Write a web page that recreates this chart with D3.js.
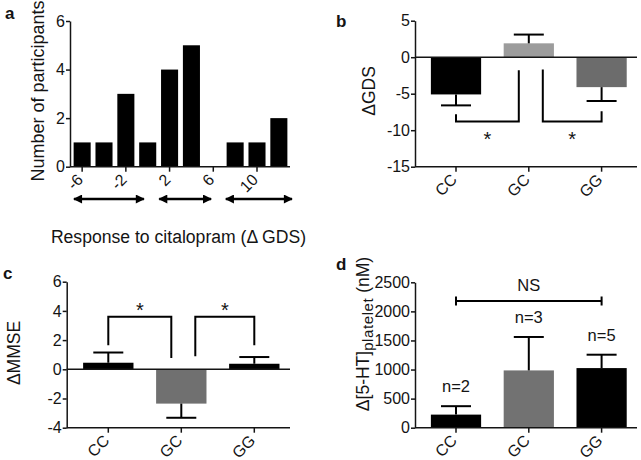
<!DOCTYPE html>
<html><head><meta charset="utf-8">
<script src="https://cdn.jsdelivr.net/npm/d3@7"></script>
<style>body{margin:0;background:#fff}</style>
</head><body><svg id="chart" width="641" height="460"></svg>
<script>
// ---------- data ----------
const histBins = [-6, -4, -2, 0, 2, 4, 6, 8, 10, 12];
const histCounts = [1, 1, 3, 1, 4, 5, 0, 1, 1, 2];
const histTickValues = [-6, -2, 2, 6, 10];
const histYTicks = [0, 2, 4, 6];
const responseArrows = [[-6.75, -0.35], [1.05, 5.8], [7.15, 13.2]];

const genotypes = ["CC", "GC", "GG"];
const gdsMean = [-5.1, 1.9, -4.1];
const gdsErr = [1.5, 1.2, 1.9];
const gdsTicks = [-15, -10, -5, 0, 5];
const gdsBrackets = [
  {from: "CC", to: "GC", yFrom: -7.8, yTo: -1.8, yBar: -8.8, label: "*"},
  {from: "GC", to: "GG", yFrom: -1.7, yTo: -7.4, yBar: -8.8, label: "*"}
];

const mmseMean = [0.45, -2.35, 0.38];
const mmseErr = [0.7, 0.97, 0.46];
const mmseTicks = [-4, -2, 0, 2, 4, 6];
const mmseBrackets = [
  {from: "CC", to: "GC", yFrom: 1.64, yTo: 0.77, yBar: 3.6, label: "*"},
  {from: "GC", to: "GG", yFrom: 0.9, yTo: 1.64, yBar: 3.6, label: "*"}
];

const htMean = [225, 985, 1025];
const htErr = [145, 575, 230];
const htTicks = [0, 500, 1000, 1500, 2000, 2500];
const htN = ["n=2", "n=3", "n=5"];
const htNS = {from: "CC", to: "GG", y: 2180, label: "NS"};

// ---------- setup ----------
const FONT = "Arial, 'Liberation Sans', Helvetica, sans-serif";
const INK = "#141414";
const TICK_FS = 16;
const svg = d3.select("#chart");
svg.append("rect").attr("width", 641).attr("height", 460).attr("fill", "#fff");

function styleAxis(sel) {
  sel.attr("font-size", TICK_FS).attr("font-family", FONT);
  sel.select(".domain").attr("stroke", INK).attr("stroke-width", 1.5);
  sel.selectAll(".tick line").attr("stroke", INK).attr("stroke-width", 1.5);
  sel.selectAll(".tick text").attr("font-size", TICK_FS).attr("fill", INK).attr("font-family", FONT);
}
function txt(g, s, x, y, size, opts = {}) {
  return g.append("text").attr("x", x).attr("y", y).attr("font-size", size)
    .attr("font-family", FONT).attr("fill", INK)
    .attr("text-anchor", opts.anchor || "start")
    .attr("font-weight", opts.weight || "normal").text(s);
}
function rotLabels(axisG) {
  axisG.selectAll(".tick text")
    .attr("x", 0).attr("y", 0).attr("dy", 0)
    .attr("text-anchor", "end")
    .attr("transform", "translate(2,14) rotate(-45)");
}

// ---------- panel a ----------
(function () {
  const g = svg.append("g");
  const axisX = 70, bottom = 166.7, top = 21, right = 290;
  const y = d3.scaleLinear().domain([0, 6]).range([bottom, top]);
  const x = d3.scaleBand().domain(histBins).range([71, right]).paddingInner(0.22).paddingOuter(0.12);
  const bw = x.bandwidth();
  const xLin = d3.scaleLinear().domain([-6, 12]).range([x(-6) + bw / 2, x(12) + bw / 2]);

  g.selectAll("rect.bar").data(histBins).join("rect")
    .attr("x", d => x(d)).attr("width", bw)
    .attr("y", (d, i) => y(histCounts[i]))
    .attr("height", (d, i) => bottom - y(histCounts[i]))
    .attr("fill", "#000");

  const ya = g.append("g").attr("transform", `translate(${axisX},0)`)
    .call(d3.axisLeft(y).tickValues(histYTicks).tickFormat(d => String(d)).tickSize(4).tickSizeOuter(0).tickPadding(1));
  styleAxis(ya);

  const xa = g.append("g").attr("transform", `translate(0,${bottom})`)
    .call(d3.axisBottom(x).tickValues(histTickValues).tickFormat(d => String(d)).tickSize(5).tickSizeOuter(0));
  xa.select(".domain").remove();
  styleAxis(xa);
  rotLabels(xa);
  g.append("line").attr("x1", axisX).attr("x2", right).attr("y1", bottom).attr("y2", bottom)
    .attr("stroke", INK).attr("stroke-width", 1.5);

  const defs = svg.append("defs");
  defs.append("marker").attr("id", "ah").attr("viewBox", "0 0 10 10")
    .attr("refX", 9).attr("refY", 5).attr("markerWidth", 10).attr("markerHeight", 9)
    .attr("markerUnits", "userSpaceOnUse").attr("orient", "auto-start-reverse")
    .append("path").attr("d", "M0,0 L10,5 L0,10 Z").attr("fill", "#000");
  g.selectAll("line.arr").data(responseArrows).join("line")
    .attr("x1", d => xLin(d[0])).attr("x2", d => xLin(d[1]))
    .attr("y1", 199).attr("y2", 199)
    .attr("stroke", "#000").attr("stroke-width", 2.6)
    .attr("marker-start", "url(#ah)").attr("marker-end", "url(#ah)");

  txt(g, "a", 5, 18.5, 17, {weight: "bold"});
  txt(g, "Number of participants", 0, 0, 18, {anchor: "middle"})
    .attr("transform", "translate(44,91) rotate(-90)");
  txt(g, "Response to citalopram (\u0394 GDS)", 178.5, 243, 17.6, {anchor: "middle"});
})();

// ---------- generic bar panel ----------
function barPanel(p) {
  const g = svg.append("g");
  const y = d3.scaleLinear().domain(p.domain).range([p.bottom, p.top]);
  const x = d3.scaleBand().domain(genotypes).range(p.xr).padding(0);
  const cx = c => x(c) + x.bandwidth() / 2;
  const bw = x.bandwidth() * 0.69;

  g.selectAll("rect.bar").data(genotypes).join("rect")
    .attr("x", d => cx(d) - bw / 2).attr("width", bw)
    .attr("y", (d, i) => Math.min(y(0), y(p.mean[i])))
    .attr("height", (d, i) => Math.abs(y(p.mean[i]) - y(0)))
    .attr("fill", (d, i) => p.colors[i]);

  if (p.domain[0] < 0) {
    g.append("line").attr("x1", p.axisX).attr("x2", p.xEnd).attr("y1", y(0)).attr("y2", y(0))
      .attr("stroke", INK).attr("stroke-width", 1.5);
  }

  genotypes.forEach((c, i) => {
    const v = p.mean[i], e = v + Math.sign(v) * p.err[i];
    g.append("line").attr("x1", cx(c)).attr("x2", cx(c)).attr("y1", y(v)).attr("y2", y(e))
      .attr("stroke", "#000").attr("stroke-width", 2);
    g.append("line").attr("x1", cx(c) - 15).attr("x2", cx(c) + 15).attr("y1", y(e)).attr("y2", y(e))
      .attr("stroke", "#000").attr("stroke-width", 2);
  });

  const ya = g.append("g").attr("transform", `translate(${p.axisX},0)`)
    .call(d3.axisLeft(y).tickValues(p.ticks).tickFormat(d => String(d)).tickSize(4).tickSizeOuter(0).tickPadding(1));
  styleAxis(ya);

  const xa = g.append("g").attr("transform", `translate(0,${p.bottom})`)
    .call(d3.axisBottom(x).tickSize(5).tickSizeOuter(0));
  xa.select(".domain").remove();
  styleAxis(xa);
  rotLabels(xa);
  g.append("line").attr("x1", p.axisX).attr("x2", p.xEnd).attr("y1", p.bottom).attr("y2", p.bottom)
    .attr("stroke", INK).attr("stroke-width", 1.5);

  (p.brackets || []).forEach(b => {
    const x1 = cx(b.from) + (b.from === "GC" ? 14 : 0);
    const x2 = cx(b.to) - (b.to === "GC" ? 10 : 0);
    g.append("path")
      .attr("d", `M${x1},${y(b.yFrom)} V${y(b.yBar)} H${x2} V${y(b.yTo)}`)
      .attr("fill", "none").attr("stroke", "#000").attr("stroke-width", 2);
    const below = b.yBar < Math.min(b.yFrom, b.yTo);
    const sy = below ? y(b.yBar) + 13 : y(b.yBar) - 11;
    txt(g, b.label, (x1 + x2) / 2, sy + 0.57 * 20, 20, {anchor: "middle"});
  });

  txt(g, p.letter, p.letterPos[0], p.letterPos[1], 17, {weight: "bold"});
  return {g, x, y, cx};
}

// ---------- panel b ----------
const pb = barPanel({
  domain: [-15, 5], ticks: gdsTicks, top: 20.7, bottom: 166.7,
  xr: [419.6, 638], axisX: 415, xEnd: 637,
  mean: gdsMean, err: gdsErr, colors: ["#000", "#9c9c9c", "#6c6c6c"],
  brackets: gdsBrackets, letter: "b", letterPos: [336, 26.5]
});
txt(pb.g, "\u0394GDS", 0, 0, 17.5, {anchor: "middle"}).attr("transform", "translate(375,91) rotate(-90)");

// ---------- panel c ----------
const pc = barPanel({
  domain: [-4, 6], ticks: mmseTicks, top: 281.7, bottom: 427.7,
  xr: [71.8, 290.8], axisX: 66.7, xEnd: 290,
  mean: mmseMean, err: mmseErr, colors: ["#000", "#707070", "#000"],
  brackets: mmseBrackets, letter: "c", letterPos: [3, 278.5]
});
txt(pc.g, "\u0394MMSE", 0, 0, 17.5, {anchor: "middle"}).attr("transform", "translate(20,353) rotate(-90)");

// ---------- panel d ----------
const pd = barPanel({
  domain: [0, 2500], ticks: htTicks, top: 282.3, bottom: 427.7,
  xr: [419.6, 638], axisX: 415, xEnd: 637,
  mean: htMean, err: htErr, colors: ["#000", "#727272", "#000"],
  brackets: [], letter: "d", letterPos: [336, 270]
});
genotypes.forEach((c, i) => {
  txt(pd.g, htN[i], pd.cx(c), pd.y(htMean[i] + htErr[i]) - 14, 16.5, {anchor: "middle"});
});
{
  const x1 = pd.cx(htNS.from), x2 = pd.cx(htNS.to), yy = pd.y(htNS.y);
  pd.g.append("path").attr("d", `M${x1},${yy} H${x2} M${x1},${yy - 4.5} V${yy + 4.5} M${x2},${yy - 4.5} V${yy + 4.5}`)
    .attr("stroke", "#000").attr("stroke-width", 2).attr("fill", "none");
  txt(pd.g, htNS.label, (x1 + x2) / 2, yy - 9.5, 16.5, {anchor: "middle"});
}
{
  const t = pd.g.append("text").attr("font-family", FONT).attr("fill", INK).attr("font-size", 17.5)
    .attr("text-anchor", "middle").attr("transform", "translate(369,334) rotate(-90)");
  t.append("tspan").text("\u0394[5-HT]");
  t.append("tspan").attr("font-size", 15).attr("dy", 4).attr("letter-spacing", 0.6).text("platelet");
  t.append("tspan").attr("dy", -4).text(" (nM)");
}
</script>
</body></html>
